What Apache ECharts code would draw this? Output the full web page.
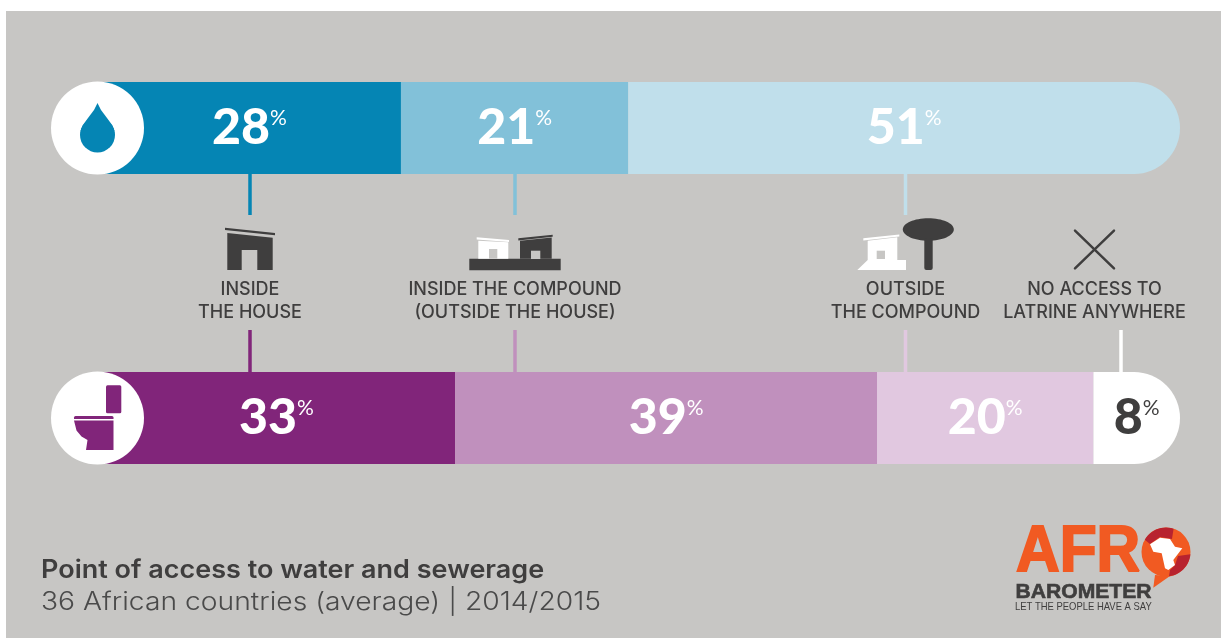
<!DOCTYPE html>
<html>
<head>
<meta charset="utf-8">
<title>Point of access to water and sewerage</title>
<style>
  html, body { margin: 0; padding: 0; background: #fff; }
  #chart { width: 1221px; height: 639px; }
</style>
<script src="https://cdn.jsdelivr.net/npm/echarts@6/dist/echarts.min.js"></script>
</head>
<body>
<div id="chart"></div>
<script>
const titleText = 'Point of access to water and sewerage'
const subtitleText = '36 African countries (average) | 2014/2015'

const waterCategories = ['Inside the house', 'Inside the compound', 'Outside the compound']
const waterValues = [28, 21, 51]
const sewerCategories = ['Inside the house', 'Inside the compound', 'Outside the compound', 'No access to latrine']
const sewerValues = [33, 39, 20, 8]

const waterColors = ['#0585b4', '#82c1d9', '#c0dfeb']
const sewerColors = ['#81257a', '#c090bd', '#e1c8e0', '#ffffff']

const bg = '#c7c6c4'
const ink = '#3f3e3e'
const orange = '#f15a22'
const red = '#b8232f'
const font = 'Lato'
const textFont = 'Inter'

function barSeries(names, values, colors, axisIndex) {
  return values.map((v, i) => {
    const last = i === values.length - 1
    const dark = colors[i] === '#ffffff'
    return {
      type: 'bar',
      name: names[i],
      stack: 'row' + axisIndex,
      xAxisIndex: axisIndex,
      yAxisIndex: axisIndex,
      barWidth: 92,
      silent: true,
      data: [v],
      itemStyle: {
        color: colors[i],
        borderRadius: last ? [0, 46, 46, 0] : 0
      },
      label: {
        show: true,
        position: 'inside',
        formatter: '{n|{c}}{p|%}',
        rich: {
          n: { fontFamily: font, fontSize: 50, fontWeight: 900, color: dark ? ink : '#fff' },
          p: { fontFamily: font, fontSize: 21, fontWeight: 400, color: dark ? ink : '#fff', verticalAlign: 'top', padding: [5, 0, 0, 0] }
        }
      }
    }
  })
}

function connector(x, y1, y2, color) {
  return { type: 'rect', z: 5, silent: true, shape: { x: x - 1.75, y: y1, width: 3.5, height: y2 - y1 }, style: { fill: color } }
}

function poly(points, fill, z) {
  return { type: 'polygon', z: z || 5, silent: true, shape: { points }, style: { fill } }
}

function box(x, y, width, height, fill, r) {
  return { type: 'rect', z: 5, silent: true, shape: { x, y, width, height, r: r || 0 }, style: { fill } }
}

function caption(x, y, text) {
  return {
    type: 'text', z: 5, silent: true, x, y,
    style: { text, fill: ink, font: '500 18px ' + textFont, textAlign: 'center', textVerticalAlign: 'middle', lineHeight: 23 }
  }
}

function plainText(x, y, text, font, fill, scaleX, stroke) {
  return {
    type: 'text', z: 5, silent: true, x, y, scaleX: scaleX || 1,
    style: { text, font, fill, textAlign: 'left', textVerticalAlign: 'middle', stroke: stroke ? fill : null, lineWidth: stroke || 0 }
  }
}

// points along the rim of the logo bubble, angles in degrees from 3 o'clock, clockwise
function rim(from, to) {
  const pts = []
  for (let a = from; a <= to; a += 6) {
    pts.push([1166 + 24.5 * Math.cos(a * Math.PI / 180), 552 + 24.5 * Math.sin(a * Math.PI / 180)])
  }
  return pts
}

const icons = [
  // row icons
  { type: 'circle', z: 10, silent: true, shape: { cx: 97.5, cy: 128, r: 46.5 }, style: { fill: '#fff' } },
  { type: 'circle', z: 10, silent: true, shape: { cx: 97.5, cy: 418, r: 46.5 }, style: { fill: '#fff' } },
  { type: 'circle', z: 11, silent: true, shape: { cx: 97.5, cy: 135, r: 17.5 }, style: { fill: waterColors[0] } },
  poly([[97.5, 103], [94, 110], [88, 118], [82.5, 125.5], [80.5, 131], [114.5, 131], [112.5, 125.5], [107, 118], [101, 110]], waterColors[0], 11),
  { type: 'rect', z: 11, silent: true, shape: { x: 106, y: 385.3, width: 15.3, height: 28, r: 1.5 }, style: { fill: sewerColors[0] } },
  { type: 'rect', z: 11, silent: true, shape: { x: 74, y: 416, width: 39.5, height: 3, r: [1.5, 1.5, 0, 0] }, style: { fill: sewerColors[0] } },
  poly([[74, 420.5], [113.5, 420.5], [113.5, 450], [86, 450], [87.5, 440], [81.5, 436.5], [76.5, 430.5]], sewerColors[0], 11),

  // inside the house
  poly([[225, 227.7], [275, 233], [275, 235.3], [225, 230]], ink),
  poly([[227.3, 233], [272.7, 237.7], [272.7, 270], [257.3, 270], [257.3, 250], [241.7, 250], [241.7, 270], [227.3, 270]], ink),

  // inside the compound
  box(469.3, 258.7, 91.4, 11.6, ink),
  poly([[520, 240.7], [551.7, 237.5], [551.7, 258.7], [520, 258.7]], ink),
  box(531, 250.7, 9.3, 8.3, bg),
  poly([[518.3, 238.3], [552.7, 234.7], [552.7, 236.7], [518.3, 240.5]], ink),
  poly([[478.3, 240.7], [508.3, 242.3], [508.3, 258.7], [478.3, 258.7]], '#fff'),
  box(489, 249, 8.3, 9.7, bg),
  poly([[476.7, 237.3], [509, 240], [509, 242], [476.7, 239.5]], '#fff'),

  // outside the compound
  poly([[867.7, 240.7], [897.3, 237.3], [897.3, 260], [906, 260], [906, 270], [857.3, 270], [867.7, 260]], '#fff'),
  box(876.7, 250.7, 8.3, 8.3, bg),
  poly([[863.3, 238.3], [899.3, 234.6], [899.3, 236.6], [863.3, 240.5]], '#fff'),
  { type: 'ellipse', z: 5, silent: true, shape: { cx: 928.3, cy: 229.5, rx: 25.5, ry: 11.2 }, style: { fill: ink } },
  box(924.3, 238, 8.4, 32, ink, 2),

  // no access
  { type: 'line', z: 5, silent: true, shape: { x1: 1075, y1: 230.7, x2: 1114, y2: 268.3 }, style: { stroke: ink, lineWidth: 2.5, lineCap: 'round' } },
  { type: 'line', z: 5, silent: true, shape: { x1: 1114, y1: 230.7, x2: 1075, y2: 268.3 }, style: { stroke: ink, lineWidth: 2.5, lineCap: 'round' } }
]

const connectors = [
  connector(250, 174, 215, waterColors[0]),
  connector(515, 174, 215, waterColors[1]),
  connector(905.5, 174, 215, waterColors[2]),
  connector(250, 330, 372, sewerColors[0]),
  connector(515, 330, 372, sewerColors[1]),
  connector(905.5, 330, 372, sewerColors[2]),
  connector(1121, 330, 372, sewerColors[3])
]

const captions = [
  caption(250, 301, 'INSIDE\nTHE HOUSE'),
  caption(515, 301, 'INSIDE THE COMPOUND\n(OUTSIDE THE HOUSE)'),
  caption(905.5, 301, 'OUTSIDE\nTHE COMPOUND'),
  caption(1094.5, 301, 'NO ACCESS TO\nLATRINE ANYWHERE')
]

const headings = [
  plainText(41, 570, titleText, '600 25px ' + textFont, ink, 1.08),
  plainText(41, 602.5, subtitleText, '300 25px ' + textFont, '#4a4a4a', 1.13)
]

const logo = [
  plainText(1016, 553, 'AFR', '700 65px "Liberation Sans"', orange, 0.93, 2),
  { type: 'circle', z: 5, silent: true, shape: { cx: 1166, cy: 552, r: 24.5 }, style: { fill: orange } },
  poly([[1155, 575], [1153.3, 587.7], [1170, 576]], orange),
  poly([...rim(210, 290), [1172, 539], [1160, 537], [1150, 544]], red),
  poly([...rim(5, 85), [1170, 570], [1175, 565], [1178, 556]], red),
  poly([[1150, 544.3], [1160, 537.7], [1170, 539], [1175, 546.7], [1182.3, 548.3], [1173.3, 560], [1175, 565], [1168.3, 570], [1165, 568.3], [1161.7, 553.3], [1153.3, 551.7]], '#fff'),
  plainText(1015.5, 592.5, 'BAROMETER', '700 20.5px "Liberation Sans"', ink, 1.03, 0.6),
  plainText(1015, 607, 'LET THE PEOPLE HAVE A SAY', '400 10.5px "Liberation Sans"', ink, 0.9)
]

const chart = echarts.init(document.getElementById('chart'))

chart.setOption({
  animation: false,
  backgroundColor: '#ffffff',
  grid: [
    { left: 98, width: 1082, top: 82, height: 92 },
    { left: 98, width: 1082, top: 372, height: 92 }
  ],
  xAxis: [
    { type: 'value', gridIndex: 0, min: 0, max: 100, show: false },
    { type: 'value', gridIndex: 1, min: 0, max: 100, show: false }
  ],
  yAxis: [
    { type: 'category', gridIndex: 0, data: ['Water'], show: false },
    { type: 'category', gridIndex: 1, data: ['Sewerage'], show: false }
  ],
  series: [
    ...barSeries(waterCategories, waterValues, waterColors, 0),
    ...barSeries(sewerCategories, sewerValues, sewerColors, 1)
  ],
  graphic: [
    { type: 'rect', z: -1, silent: true, shape: { x: 6, y: 11, width: 1215, height: 627 }, style: { fill: bg } },
    ...connectors,
    ...icons,
    ...captions,
    ...headings,
    ...logo
  ]
})
</script>
</body>
</html>
